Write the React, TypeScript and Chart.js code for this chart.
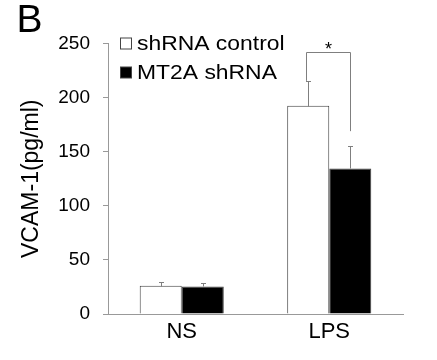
import React, { useEffect, useRef } from "react";
import { Chart, registerables } from "chart.js";

Chart.register(...registerables);

const categories = ["NS", "LPS"];
const seriesNames = ["shRNA control", "MT2A shRNA"];
const controlValues = [26, 192.5];
const controlErrors = [4, 23];
const mt2aValues = [25.5, 134.5];
const mt2aErrors = [3.5, 20.5];
const yTicks = [0, 50, 100, 150, 200, 250];
const panelLabel = "B";
const yTitle = "VCAM-1(pg/ml)";
// significance bracket on LPS: top level, left leg end, right leg end
const sigCategory = 1;
const sigTop = 242;
const sigLeftEnd = 215.5;
const sigRightEnd = 169;
const sigLabel = "*";

const FONT = "'Liberation Sans', Arial, sans-serif";
const values = [controlValues, mt2aValues];
const errors = [controlErrors, mt2aErrors];
const fills = ["#ffffff", "#000000"];

function stretchedText(ctx: any, text: string, x: number, y: number, sx: number) {
  ctx.save();
  ctx.translate(x, y);
  ctx.scale(sx, 1);
  ctx.fillText(text, 0, 0);
  ctx.restore();
}

const extras = {
  id: "extras",
  afterDatasetsDraw(chart: any) {
    const ctx = chart.ctx;
    const y = chart.scales.y;
    ctx.save();
    // error bars
    ctx.strokeStyle = "#7f7f7f";
    ctx.lineWidth = 1;
    for (let i = 0; i < values.length; i++) {
      const meta = chart.getDatasetMeta(i);
      meta.data.forEach((bar: any, j: number) => {
        const x = Math.round(bar.x) + 0.5;
        const yTop = Math.round(y.getPixelForValue(values[i][j])) + 0.5;
        const yErr = Math.round(y.getPixelForValue(values[i][j] + errors[i][j])) + 0.5;
        ctx.beginPath();
        ctx.moveTo(x, yTop);
        ctx.lineTo(x, yErr);
        ctx.moveTo(x - 2.5, yErr);
        ctx.lineTo(x + 2.5, yErr);
        ctx.stroke();
      });
    }
    // significance bracket
    const b0 = chart.getDatasetMeta(0).data[sigCategory];
    const b1 = chart.getDatasetMeta(1).data[sigCategory];
    const xl = Math.round(b0.x) - 1.5;
    const xr = Math.round(b1.x) + 0.5;
    const yt = Math.round(y.getPixelForValue(sigTop)) + 0.5;
    ctx.beginPath();
    ctx.moveTo(xl, y.getPixelForValue(sigLeftEnd));
    ctx.lineTo(xl, yt);
    ctx.lineTo(xr, yt);
    ctx.lineTo(xr, y.getPixelForValue(sigRightEnd));
    ctx.stroke();
    ctx.fillStyle = "#000";
    ctx.font = `18px ${FONT}`;
    ctx.textAlign = "center";
    ctx.textBaseline = "alphabetic";
    ctx.fillText(sigLabel, (xl + xr) / 2, yt + 2);

    // panel label
    ctx.textAlign = "left";
    ctx.font = `39px ${FONT}`;
    ctx.fillText(panelLabel, 16.5, 32);

    // legend
    ctx.font = `21px ${FONT}`;
    const lx = 120.5;
    const baselines = [50, 79];
    seriesNames.forEach((name, i) => {
      ctx.fillStyle = fills[i];
      ctx.strokeStyle = "#444";
      ctx.fillRect(lx, baselines[i] - 12, 11, 11);
      ctx.strokeRect(lx, baselines[i] - 12, 11, 11);
      ctx.fillStyle = "#000";
      stretchedText(ctx, name, 137, baselines[i], 1.09);
    });
    ctx.restore();
  },
};

export default function App() {
  const ref = useRef<HTMLCanvasElement>(null);
  useEffect(() => {
    document.body.style.margin = "0";
    const chart = new Chart(ref.current as HTMLCanvasElement, {
      type: "bar",
      data: {
        labels: categories,
        datasets: seriesNames.map((name, i) => ({
          label: name,
          data: values[i],
          backgroundColor: fills[i],
          borderColor: "#404040",
          borderWidth: 1,
          barPercentage: 1,
          categoryPercentage: 0.57,
        })),
      },
      options: {
        animation: false,
        responsive: false,
        devicePixelRatio: 1,
        layout: { padding: { top: 43.5, right: 34, left: 0, bottom: 0 } },
        plugins: { legend: { display: false }, tooltip: { enabled: false } },
        scales: {
          x: {
            grid: { display: false, drawTicks: false },
            border: { color: "#999", width: 1 },
            ticks: { font: { family: FONT, size: 22 }, color: "#000", padding: 5 },
            afterFit(s: any) {
              s.height = 46;
            },
          },
          y: {
            min: 0,
            max: 250,
            afterBuildTicks(s: any) {
              s.ticks = yTicks.map((v) => ({ value: v }));
            },
            ticks: { font: { family: FONT, size: 19 }, color: "#000", padding: 13 },
            grid: { drawOnChartArea: false, tickLength: 5, color: "#999" },
            border: { color: "#999", width: 1 },
            title: {
              display: true,
              text: yTitle,
              font: { family: FONT, size: 23 },
              color: "#000",
              padding: { top: 18, bottom: 0 },
            },
            afterFit(s: any) {
              s.width = 108;
            },
          },
        },
      },
      plugins: [extras],
    });
    return () => chart.destroy();
  }, []);
  return <canvas ref={ref} width={437} height={360} style={{ display: "block" }} />;
}
